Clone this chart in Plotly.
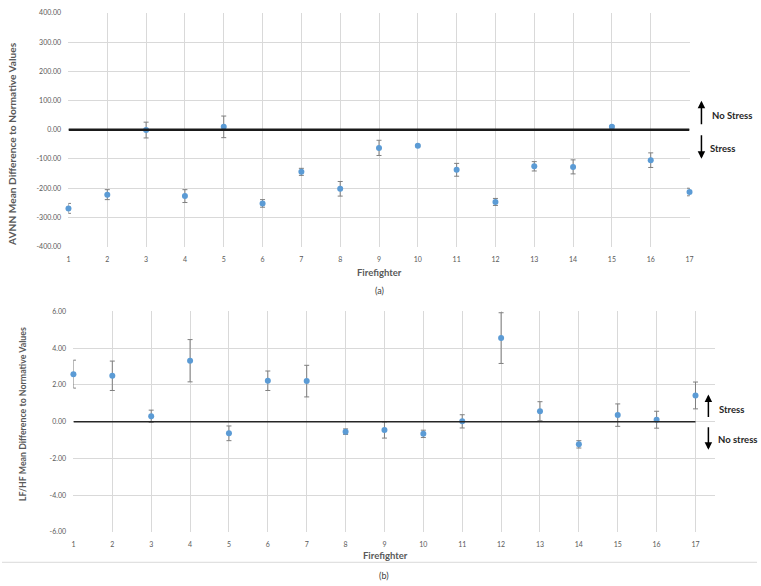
import plotly.graph_objects as go

# firefighters 1..17
firefighter = list(range(1, 18))

# (a) AVNN mean difference to normative values
avnn_mean = [-269, -222, -1, -227, 10, -252, -144, -202, -62, -55, -137, -247, -125, -127, 10, -104, -213]
avnn_err = [17, 17, 27, 22, 37, 13, 12, 25, 26, 3, 22, 12, 16, 24, 4, 25, 13]

# (b) LF/HF mean difference to normative values
lfhf_mean = [2.59, 2.50, 0.30, 3.32, -0.63, 2.23, 2.21, -0.54, -0.45, -0.66, 0.02, 4.55, 0.57, -1.23, 0.36, 0.11, 1.43]
lfhf_err = [0.76, 0.80, 0.33, 1.15, 0.40, 0.53, 0.86, 0.15, 0.44, 0.20, 0.36, 1.38, 0.52, 0.20, 0.61, 0.46, 0.73]

avnn_ticks = [-400, -300, -200, -100, 0, 100, 200, 300, 400]
avnn_ticktext = ["-400.00", "-300.00", "-200.00", "-100.00", "0.00", "100.00", "200.00", "300.00", "400.00"]
lfhf_ticks = [-6, -4, -2, 0, 2, 4, 6]
lfhf_ticktext = ["-6.00", "-4.00", "-2.00", "0.00", "2.00", "4.00", "6.00"]

W, H = 761, 586
FONT = "Lato"
GRID = "#D9D9D9"
TXT = "#595959"
BLUE = "#5B9BD5"

def px(x):
    return x / W

def py(y):
    return 1 - y / H

fig = go.Figure()

fig.add_trace(go.Scatter(
    x=firefighter, y=avnn_mean, mode="markers", cliponaxis=False,
    marker=dict(color=BLUE, size=6),
    error_y=dict(type="data", array=avnn_err, color="#7F7F7F", thickness=1, width=2.5),
    xaxis="x", yaxis="y", showlegend=False))

fig.add_trace(go.Scatter(
    x=firefighter, y=lfhf_mean, mode="markers", cliponaxis=False,
    marker=dict(color=BLUE, size=6),
    error_y=dict(type="data", array=lfhf_err, color="#7F7F7F", thickness=1, width=2.5),
    xaxis="x2", yaxis="y2", showlegend=False))

tickfont = dict(family=FONT, size=7, color=TXT)
xcommon = dict(tickvals=firefighter, showgrid=True, gridcolor=GRID, gridwidth=1,
               zeroline=False, showline=False, ticks="outside", ticklen=6,
               tickcolor="rgba(0,0,0,0)", tickfont=tickfont, fixedrange=True)
ycommon = dict(showgrid=True, gridcolor=GRID, gridwidth=1, zeroline=False, showline=False,
               ticks="outside", ticklen=5, tickcolor="rgba(0,0,0,0)", tickfont=tickfont,
               fixedrange=True)

fig.update_layout(
    width=W, height=H,
    margin=dict(l=0, r=0, t=0, b=0),
    paper_bgcolor="white", plot_bgcolor="white",
    font=dict(family=FONT, color=TXT),
    xaxis=dict(domain=[px(67), px(693)], range=[1, 17], anchor="y", **xcommon),
    yaxis=dict(domain=[py(245), py(8)], range=[-400, 400], anchor="x",
               tickvals=avnn_ticks, ticktext=avnn_ticktext, **ycommon),
    xaxis2=dict(domain=[px(72), px(718.6)], range=[1, 17.5], anchor="y2", **xcommon),
    yaxis2=dict(domain=[py(534.3), py(310.7)], range=[-6, 6], anchor="x2",
                tickvals=lfhf_ticks, ticktext=lfhf_ticktext, **ycommon),
)

# zero reference lines
fig.add_shape(type="line", xref="x", yref="y", x0=1, x1=17, y0=0, y1=0,
              line=dict(color="#1a1a1a", width=2.5))
fig.add_shape(type="line", xref="x2", yref="y2", x0=1, x1=17, y0=0, y1=0,
              line=dict(color="#262626", width=1.5))
# separator under panel (b)
fig.add_shape(type="line", xref="paper", yref="paper", x0=0, x1=1, y0=py(565), y1=py(565),
              line=dict(color=GRID, width=1))

bold = dict(family=FONT, size=9.5, color=TXT)
dark = dict(family=FONT, size=9.5, color="#262626")
ann = [
    dict(text="<b>AVNN Mean Difference to Normative Values</b>", x=px(10), y=py(141),
         textangle=-90, font=dict(family=FONT, size=10.2, color=TXT)),
    dict(text="<b>LF/HF Mean Difference to Normative Values</b>", x=px(20), y=py(415),
         textangle=-90, font=dict(family=FONT, size=8.8, color=TXT)),
    dict(text="<b>Firefighter</b>", x=px(381), y=py(271), font=bold),
    dict(text="(a)", x=px(381), y=py(289), font=dict(family=FONT, size=9, color="#404040")),
    dict(text="<b>Firefighter</b>", x=px(387), y=py(558), font=bold),
    dict(text="(b)", x=px(385), y=py(578), font=dict(family=FONT, size=9, color="#404040")),
    dict(text="<b>No Stress</b>", x=px(714), y=py(112), xanchor="left", font=dark),
    dict(text="<b>Stress</b>", x=px(712), y=py(145), xanchor="left", font=dark),
    dict(text="<b>Stress</b>", x=px(721), y=py(410), xanchor="left", font=dark),
    dict(text="<b>No stress</b>", x=px(720), y=py(441), xanchor="left", font=dark),
]
for a in ann:
    a.setdefault("xanchor", "center")
    fig.add_annotation(xref="paper", yref="paper", yanchor="middle", showarrow=False, **a)

# arrows (head position, tail offset in px)
arrows = [(705, 97, 25), (705, 156, -25), (712, 395, 24), (712, 451, -24)]
for x, y, off in arrows:
    fig.add_annotation(xref="paper", yref="paper", x=px(x), y=py(y), ax=0, ay=off,
                       text="", showarrow=True, arrowhead=2, arrowsize=1, arrowwidth=1.5,
                       arrowcolor="black")

fig.write_html("out.html", config={"displayModeBar": False},
               post_script="document.body.style.margin='0px';")
